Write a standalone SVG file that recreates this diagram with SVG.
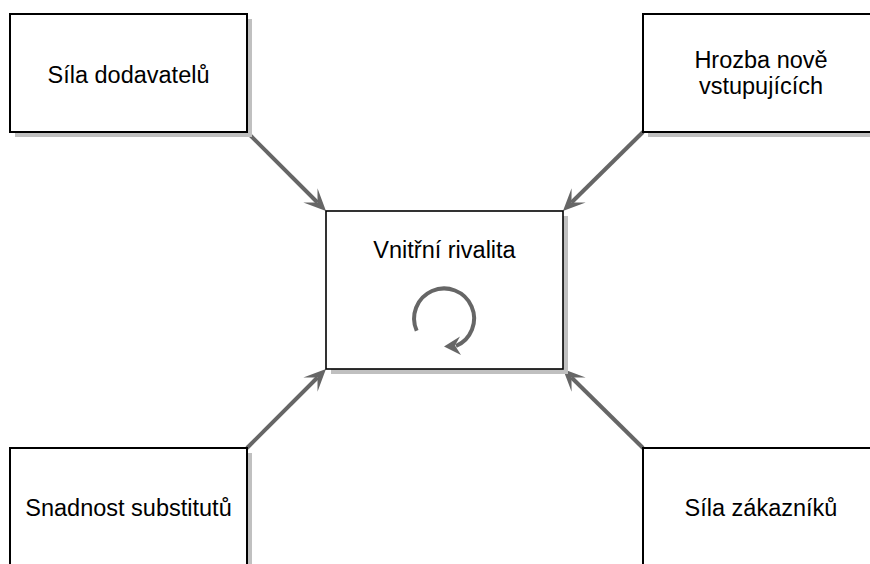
<svg xmlns="http://www.w3.org/2000/svg" width="870" height="564" viewBox="0 0 870 564">
  <style>
    .shadow { fill: #c0c0c0; }
    .box { fill: #ffffff; stroke: #000000; stroke-width: 2; }
    .box-center { fill: #ffffff; stroke: #000000; stroke-width: 1.6; }
    .label { font-family: "Liberation Sans", Arial, sans-serif; font-size: 23.5px; fill: #000000; text-anchor: middle; }
    .conn { stroke: #666666; stroke-width: 4; fill: none; marker-end: url(#head); }
    .loop { stroke: #666666; stroke-width: 4; fill: none; }
    .loop-head { fill: #666666; }
  </style>
  <defs>
    <marker id="head" markerUnits="userSpaceOnUse" orient="auto" refX="0" refY="0" markerWidth="1" markerHeight="1" overflow="visible">
      <path d="M-10,-10 L12,0 L-10,10 L0,0 Z" fill="#666666"/>
    </marker>
  </defs>

  <rect width="870" height="564" fill="#ffffff"/>

  <!-- connectors -->
  <g id="connectors">
    <line class="conn" x1="247" y1="132" x2="317.5" y2="202.5"/>
    <line class="conn" x1="643" y1="132" x2="571.5" y2="202.5"/>
    <line class="conn" x1="247" y1="448" x2="317.5" y2="377.5"/>
    <line class="conn" x1="643" y1="448" x2="571.5" y2="377.5"/>
  </g>

  <g id="supplier-power">
    <rect class="shadow" x="15" y="19" width="237" height="118"/>
    <rect class="box" x="10" y="14" width="237" height="118"/>
    <text class="label" x="128.5" y="83">Síla dodavatelů</text>
  </g>

  <g id="new-entrants">
    <rect class="shadow" x="648" y="19" width="237" height="118"/>
    <rect class="box" x="643" y="14" width="237" height="118"/>
    <text class="label" x="761" y="68">Hrozba nově</text>
    <text class="label" x="761" y="94">vstupujících</text>
  </g>

  <g id="rivalry">
    <rect class="shadow" x="331" y="216" width="237" height="158"/>
    <rect class="box-center" x="326" y="211" width="237" height="158"/>
    <text class="label" x="444.5" y="258">Vnitřní rivalita</text>
    <path class="loop" d="M416.7,330.7 A30,30 0 1 1 456,346"/>
    <polygon class="loop-head" points="444,346.5 460,336.5 455,345.5 461,355"/>
  </g>

  <g id="substitutes">
    <rect class="shadow" x="15" y="453" width="237" height="140"/>
    <rect class="box" x="10" y="448" width="237" height="140"/>
    <text class="label" x="128.5" y="516">Snadnost substitutů</text>
  </g>

  <g id="buyer-power">
    <rect class="shadow" x="648" y="453" width="237" height="140"/>
    <rect class="box" x="643" y="448" width="237" height="140"/>
    <text class="label" x="761" y="516">Síla zákazníků</text>
  </g>
</svg>
